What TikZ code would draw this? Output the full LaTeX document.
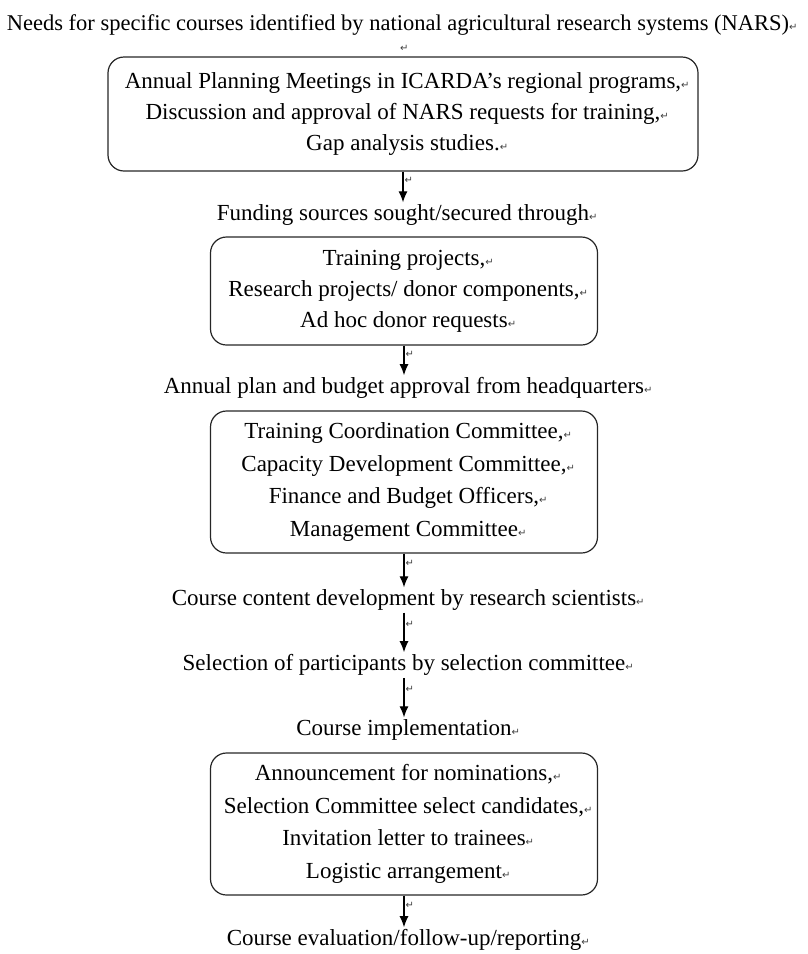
\documentclass[tikz,border=0pt]{standalone}
\usepackage{fontspec}
\setmainfont{Liberation Serif}
\newfontfamily\markfont{DejaVu Sans}
\usetikzlibrary{arrows.meta,shapes}

% Word paragraph mark, no width so the line stays centred
\newcommand{\retmark}{\rlap{\markfont\fontsize{10}{10}\selectfont\color{darkgray}↵}}

\tikzset{
  stage/.style={font=\fontsize{23}{31}\selectfont, inner sep=2pt, align=center},
  stagebox/.style={stage, draw=black!85, line width=1.2pt, rounded corners=16pt,
    minimum width=387pt},
  tallbox/.style={stagebox, minimum height=142pt, font=\fontsize{23}{32.5}\selectfont},
  flow/.style={-{Latex[length=11pt,width=9pt]}, line width=1.2pt}
}

\begin{document}
\begin{tikzpicture}[x=1pt, y=-1pt]
      \useasboundingbox (0,0) rectangle (807,954);
%      \draw [help lines] (0,0) grid [step=50] (807,954);
      \node [stage, font=\fontsize{22.5}{31}\selectfont] (needs) at (398,25) {Needs for specific courses identified by national agricultural research systems (NARS)\retmark};
      \node [stage] (blank) at (400,48) {\retmark};
      \node [stagebox, minimum width=590pt, minimum height=114pt] (meetings) at (403,114)
        {Annual Planning Meetings in ICARDA's regional programs,\retmark\\
         Discussion and approval of NARS requests for training,\retmark\\
         Gap analysis studies.\retmark};
      \node [stage] (funding) at (403,215) {Funding sources sought/secured through\retmark};
      \node [stagebox, minimum height=108pt] (sources) at (404,291)
        {Training projects,\retmark\\
         Research projects/ donor components,\retmark\\
         Ad hoc donor requests\retmark};
      \node [stage] (budget) at (404,388) {Annual plan and budget approval from headquarters\retmark};
      \node [tallbox] (committees) at (404,482)
        {Training Coordination Committee,\retmark\\
         Capacity Development Committee,\retmark\\
         Finance and Budget Officers,\retmark\\
         Management Committee\retmark};
      \node [stage] (content) at (404,600) {Course content development by research scientists\retmark};
      \node [stage] (selection) at (404,665) {Selection of participants by selection committee\retmark};
      \node [stage] (implement) at (404,730) {Course implementation\retmark};
      \node [tallbox] (logistics) at (404,824)
        {Announcement for nominations,\retmark\\
         Selection Committee select candidates,\retmark\\
         Invitation letter to trainees\retmark\\
         Logistic arrangement\retmark};
      \node [stage] (evaluation) at (404,940) {Course evaluation/follow-up/reporting\retmark};

      \foreach \a/\b in {meetings/funding, sources/budget, committees/content,
        content/selection, selection/implement, logistics/evaluation}
        \draw [flow] (\a) -- node [right, pos=0.3, inner sep=1pt] {\retmark} (\b);
    \end{tikzpicture}
\end{document}
